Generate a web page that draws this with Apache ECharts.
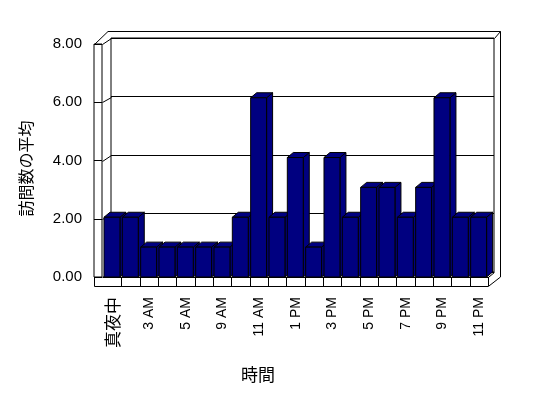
<!DOCTYPE html>
<html><head><meta charset="utf-8">
<script src="https://cdn.jsdelivr.net/npm/echarts@6/dist/echarts.min.js"></script>
<style>html,body{margin:0;padding:0;background:#fff}#c{width:548px;height:398px}</style>
</head><body><div id="c"></div>
<script>
// ---- data ----
const categories = ['真夜中','1 AM','3 AM','4 AM','5 AM','7 AM','9 AM','10 AM','11 AM','正午','1 PM','2 PM','3 PM','4 PM','5 PM','6 PM','7 PM','8 PM','9 PM','10 PM','11 PM'];
const visits = [2,2,1,1,1,1,1,2,6,2,4,1,4,2,3,3,2,3,6,2,2];
const yTicks = [0,2,4,6,8];
const xTitle = '時間';
const yTitle = '訪問数の平均';

// ---- layout ----
const W = 548, H = 398;
const BACK = {left:111, top:38, right:494, bottom:272};
const FACE = {left:94, top:44, right:102, bottom:277};
const FRONT = {left:103.3, top:38, right:488.3, bottom:277};
const FLOOR_BOTTOM = 286;
const OUTER = {top:31.5, right:500.5, topLeftX:108};
const DEPTH = {dx:6, dy:5};
const NAVY = '#000080';

const chart = echarts.init(document.getElementById('c'), null, {renderer:'canvas'});

function gridOf(b){ return {left:b.left, top:b.top, width:b.right-b.left, height:b.bottom-b.top}; }

const option = {
  animation:false,
  backgroundColor:'#fff',
  grid:[
    Object.assign(gridOf(BACK), {show:true, backgroundColor:'#fff', borderColor:'#000', borderWidth:1}),
    Object.assign(gridOf(FACE), {show:true, backgroundColor:'#fff', borderColor:'#000', borderWidth:1}),
    gridOf(FRONT)
  ],
  xAxis:[
    {gridIndex:0, type:'category', data:categories, show:false},
    {gridIndex:1, type:'category', data:[''], show:false},
    {gridIndex:2, type:'category', data:categories, boundaryGap:true,
      axisLine:{show:true, lineStyle:{color:'#000', width:1}},
      axisTick:{show:true, length:9, inside:false, lineStyle:{color:'#000'}, interval:function(i){return i>0;}},
      axisLabel:{rotate:90, margin:20, interval:1, fontSize:14, color:'#000', fontFamily:'Liberation Sans, Arial, sans-serif',
        formatter:function(v,i){ return /^[\x00-\x7F]*$/.test(v) ? v : '{cjk|'+v+'}'; },
        rich:{cjk:{fontSize:17, fontFamily:'Noto Sans CJK JP', color:'#000'}}}
    }
  ],
  yAxis:[
    {gridIndex:0, type:'value', min:yTicks[0], max:yTicks[yTicks.length-1], interval:2,
      axisLine:{show:false}, axisTick:{show:false}, axisLabel:{show:false},
      splitLine:{show:true, lineStyle:{color:'#000', width:1}}},
    {gridIndex:1, type:'value', min:yTicks[0], max:yTicks[yTicks.length-1], interval:2,
      axisLine:{show:false}, axisTick:{show:false},
      axisLabel:{show:true, margin:12, fontSize:15, color:'#000', fontFamily:'Liberation Sans, Arial, sans-serif',
        formatter:function(v){return v.toFixed(2);}},
      splitLine:{show:true, lineStyle:{color:'#000', width:1}}},
    {gridIndex:2, type:'value', min:yTicks[0], max:yTicks[yTicks.length-1], show:false, splitLine:{show:false}}
  ],
  series:[{
    type:'custom', xAxisIndex:2, yAxisIndex:2, data:visits.map(function(v,i){return [i,v];}),
    renderItem:function(params, api){
      const i = api.value(0), v = api.value(1);
      const base = api.coord([i, 0]);
      const topP = api.coord([i, v]);
      const bw = api.size([1,0])[0];
      const w = bw*0.87;
      const l = base[0] - w/2 - 0.5;
      const r = l + w;
      const y0 = base[1], y1 = topP[1];
      const dx = DEPTH.dx, dy = DEPTH.dy;
      const st = {fill:NAVY, stroke:'#000', lineWidth:1};
      return {type:'group', children:[
        {type:'polygon', shape:{points:[[r,y1],[r+dx,y1-dy],[r+dx,y0-dy],[r,y0]]}, style:st},
        {type:'polygon', shape:{points:[[l,y1],[l+dx,y1-dy],[r+dx,y1-dy],[r,y1]]}, style:st},
        {type:'rect', shape:{x:l, y:y1, width:w, height:y0-y1}, style:st}
      ]};
    }
  }]
};
chart.setOption(option);

// frame decorations derived from the grids / axes
const ls = {stroke:'#000', lineWidth:1, fill:null};
const g = [];
g.push({type:'polyline', shape:{points:[
  [FACE.left+0.5, FACE.bottom], [FACE.left+0.5, FLOOR_BOTTOM+0.5], [FRONT.right, FLOOR_BOTTOM+0.5],
  [OUTER.right, BACK.bottom+5], [OUTER.right, OUTER.top], [OUTER.topLeftX, OUTER.top], [FACE.left+0.5, FACE.top+0.5]
]}, style:ls});
g.push({type:'line', shape:{x1:FRONT.right, y1:FACE.bottom+0.5, x2:BACK.right+0.5, y2:BACK.bottom+0.5}, style:ls});
g.push({type:'line', shape:{x1:BACK.right+0.5, y1:BACK.top+0.5, x2:OUTER.right, y2:OUTER.top}, style:ls});
yTicks.forEach(function(v){
  const yb = chart.convertToPixel({yAxisIndex:0}, v);
  const yf = chart.convertToPixel({yAxisIndex:1}, v);
  g.push({type:'line', shape:{x1:FACE.right+0.5, y1:Math.round(yf)+0.5, x2:BACK.left+0.5, y2:Math.round(yb)+0.5}, style:ls});
});
g.push({type:'text', x:26, y:168.5, rotation:Math.PI/2,
  style:{text:yTitle, font:'16px "Noto Sans CJK JP"', fill:'#000', align:'center', verticalAlign:'middle', textAlign:'center', textVerticalAlign:'middle'}});
g.push({type:'text', x:258, y:375,
  style:{text:xTitle, font:'17px "Noto Sans CJK JP"', fill:'#000', align:'center', verticalAlign:'middle', textAlign:'center', textVerticalAlign:'middle'}});
chart.setOption({graphic:g});
</script>
</body></html>
